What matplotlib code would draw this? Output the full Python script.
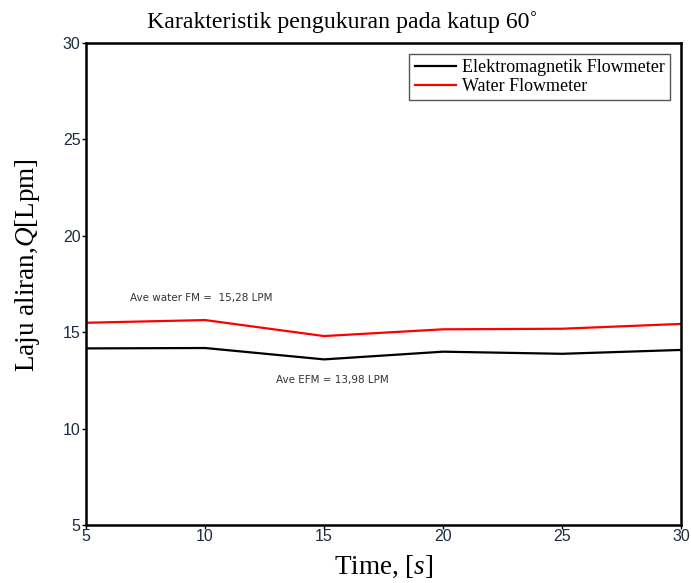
import matplotlib
matplotlib.use("Agg")
import matplotlib.pyplot as plt

# Flow rate readings at valve opening 60 deg
time_s = [5, 10, 15, 20, 25, 30]
efm_lpm = [14.16, 14.18, 13.59, 13.99, 13.88, 14.08]
water_fm_lpm = [15.49, 15.63, 14.80, 15.15, 15.18, 15.43]

plt.rcParams['mathtext.fontset'] = 'custom'
plt.rcParams['mathtext.it'] = 'Liberation Serif:italic'
plt.rcParams['mathtext.rm'] = 'Liberation Serif'

fig = plt.figure(figsize=(6.91, 5.83), dpi=100)
ax = fig.add_axes([0.1245, 0.0995, 0.861, 0.8267])

ax.plot(time_s, efm_lpm, color='black', lw=1.6, label='Elektromagnetik Flowmeter')
ax.plot(time_s, water_fm_lpm, color='red', lw=1.6, label='Water Flowmeter')

ax.set_xlim(5, 30)
ax.set_ylim(5, 30)
ax.set_xticks([5, 10, 15, 20, 25, 30])
ax.set_yticks([5, 10, 15, 20, 25, 30])
for lbl in ax.get_xticklabels() + ax.get_yticklabels():
    lbl.set_fontfamily('Liberation Sans')
    lbl.set_fontsize(11.5)
    lbl.set_color('#1f2a40')
ax.tick_params(direction='out', length=3, width=1)
ax.tick_params(axis='x', pad=0)
ax.tick_params(axis='y', pad=1)
for sp in ax.spines.values():
    sp.set_linewidth(1.8)

fig.text(0.495, 0.962, 'Karakteristik pengukuran pada katup 60˚', family='Liberation Serif',
         fontsize=17.2, ha='center', va='center')
ax.set_xlabel('Time, [$s$]', family='Liberation Serif', fontsize=19.5, labelpad=7)
ax.set_ylabel('Laju aliran,$Q$[Lpm]', family='Liberation Serif', fontsize=19.5)
ax.yaxis.set_label_coords(-0.074, 0.54)

ax.text(6.85, 16.77, 'Ave water FM =  15,28 LPM', family='DejaVu Sans',
        fontsize=7.5, color='#333333', va='center')
ax.text(12.98, 12.52, 'Ave EFM = 13,98 LPM', family='DejaVu Sans',
        fontsize=7.5, color='#333333', va='center')

leg = ax.legend(loc='upper right', prop={'family': 'Liberation Serif', 'size': 13},
                fancybox=False, edgecolor='#555555', framealpha=1,
                handlelength=2.3, handletextpad=0.3, borderpad=0.3,
                labelspacing=0.1, borderaxespad=0.6)
leg.get_frame().set_linewidth(1.0)

fig.savefig('out.png', dpi=100)
